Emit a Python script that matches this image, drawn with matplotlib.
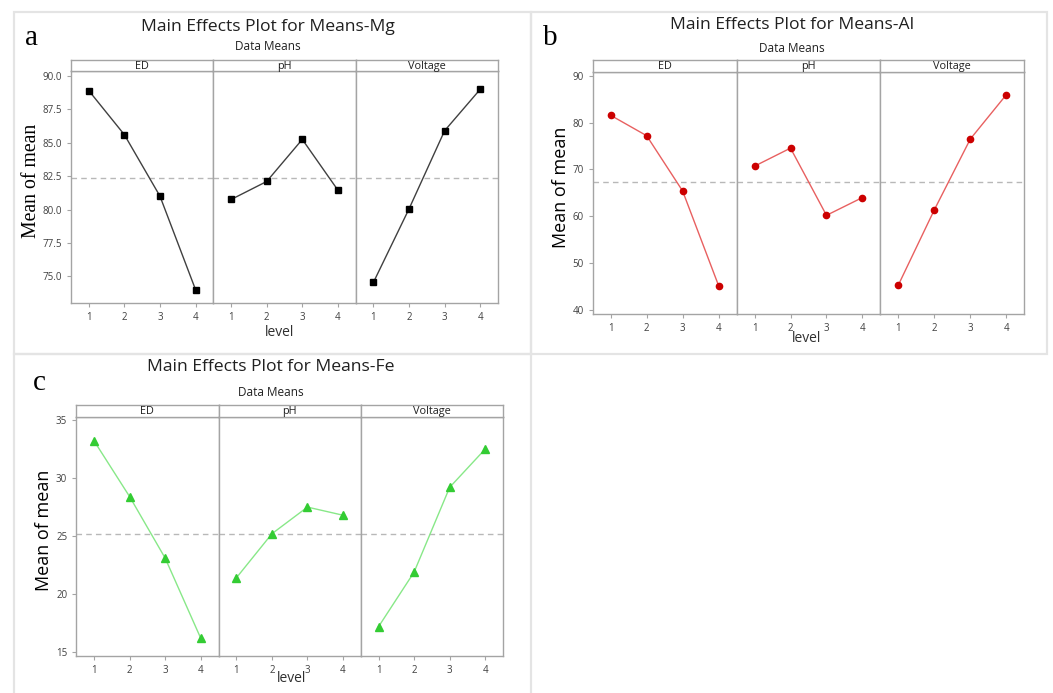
import matplotlib
matplotlib.use("Agg")
import matplotlib.pyplot as plt
from matplotlib.patches import Rectangle
from matplotlib.ticker import FormatStrFormatter

W, H = 1053, 693

# data
levels = [1, 2, 3, 4]
factors = ['ED', 'pH', 'Voltage']

mg_ed = [88.9, 85.6, 81.0, 74.0]
mg_ph = [80.75, 82.1, 85.25, 81.45]
mg_volt = [74.55, 80.05, 85.9, 89.0]
mg_mean = 82.35

al_ed = [81.55, 77.2, 65.4, 45.2]
al_ph = [70.7, 74.55, 60.2, 64.0]
al_volt = [45.35, 61.4, 76.5, 85.95]
al_mean = 67.3

fe_ed = [33.2, 28.4, 23.1, 16.2]
fe_ph = [21.4, 25.2, 27.5, 26.8]
fe_volt = [17.2, 21.9, 29.2, 32.5]
fe_mean = 25.2

sans = ['Open Sans', 'DejaVu Sans']
serif = ['Liberation Serif', 'DejaVu Serif']
tick_col = '#404040'
spine_col = '#a4a4a4'

fig = plt.figure(figsize=(W / 100, H / 100), dpi=100)


def frac(x0, y0, x1, y1):
    # pixel box -> figure fraction rect
    return [x0 / W, 1 - y1 / H, (x1 - x0) / W, (y1 - y0) / H]


def panel(series, mean, left, right, strip_top, strip_bot, bottom, ylim, yticks, yfmt,
          marker, mcol, lcol, msize):
    step = (right - left) / 3
    axs = []
    for i, (name, vals) in enumerate(zip(factors, series)):
        x0 = left + i * step
        ax = fig.add_axes(frac(x0, strip_bot, x0 + step, bottom))
        ax.plot(levels, vals, color=lcol, lw=1.0, zorder=2)
        ax.plot(levels, vals, ls='none', marker=marker, color=mcol, ms=msize, zorder=3)
        ax.axhline(mean, color='#b8b8b8', ls=(0, (4, 3)), lw=1.0, zorder=1)
        ax.set_xlim(0.5, 4.5)
        ax.set_ylim(*ylim)
        ax.set_xticks(levels)
        ax.set_yticks(yticks)
        ax.yaxis.set_major_formatter(FormatStrFormatter(yfmt))
        for s in ax.spines.values():
            s.set_color(spine_col)
            s.set_linewidth(1.0)
        ax.tick_params(colors=spine_col, labelcolor=tick_col, labelsize=7, length=3, width=0.8)
        for lab in ax.get_xticklabels() + ax.get_yticklabels():
            lab.set_family(sans)
        if i > 0:
            ax.tick_params(axis='y', left=False, labelleft=False)
        # strip header
        sx = fig.add_axes(frac(x0, strip_top, x0 + step, strip_bot))
        sx.set_xticks([])
        sx.set_yticks([])
        for s in sx.spines.values():
            s.set_color(spine_col)
            s.set_linewidth(1.0)
        sx.text(0.5, 0.45, name, ha='center', va='center', fontsize=7.8,
                family=sans, color='#202020', transform=sx.transAxes)
        axs.append(ax)
    return axs


def border(x0, y0, x1, y1):
    fig.patches.append(Rectangle((x0 / W, 1 - y1 / H), (x1 - x0) / W, (y1 - y0) / H,
                                 transform=fig.transFigure, fill=False,
                                 ec='#e4e4e4', lw=1.6, zorder=0))


def labels(title, cx, ty, sy, lx, ly, letter, px, py, yl_x, yl_y, yl_family, yl_size):
    fig.text(cx / W, 1 - ty / H, title, ha='center', va='center', fontsize=12.6, family=sans, color='#202020')
    fig.text(cx / W, 1 - sy / H, 'Data Means', ha='center', va='center', fontsize=8.5, family=sans, color='#202020')
    fig.text(lx / W, 1 - ly / H, 'level', ha='center', va='center', fontsize=10, family=sans, color='#303030')
    fig.text(px / W, 1 - py / H, letter, ha='center', va='center', fontsize=21, family=serif, color='black')
    fig.text(yl_x / W, 1 - yl_y / H, 'Mean of mean', ha='center', va='center', rotation=90,
             fontsize=yl_size, family=yl_family, color='black')


border(14, 12, 531, 354)
border(531, 12, 1047, 354)
border(14, 354, 531, 700)

panel([mg_ed, mg_ph, mg_volt], mg_mean, 71, 498, 60, 71, 303,
      (73.0, 90.37), [75, 77.5, 80, 82.5, 85, 87.5, 90], '%.1f',
      's', 'black', '#404040', 4.5)
labels('Main Effects Plot for Means-Mg', 268, 27, 47, 280, 332, 'a', 32, 38, 32, 181, serif, 14.2)

panel([al_ed, al_ph, al_volt], al_mean, 592.7, 1024.3, 60.3, 72, 313.7,
      (39.2, 90.8), [40, 50, 60, 70, 80, 90], '%d',
      'o', '#cc0000', '#e86060', 4.5)
labels('Main Effects Plot for Means-Al', 791.7, 25, 48, 806.7, 338, 'b', 550, 38, 561, 187, sans, 13)

panel([fe_ed, fe_ph, fe_volt], fe_mean, 76.3, 503, 405, 417, 655.7,
      (14.7, 35.26), [15, 20, 25, 30, 35], '%d',
      '^', '#33cc33', '#88e888', 5.5)
labels('Main Effects Plot for Means-Fe', 270.7, 367, 392, 292, 678, 'c', 39, 383, 44, 530, sans, 13)

fig.savefig('out.png', dpi=100)
